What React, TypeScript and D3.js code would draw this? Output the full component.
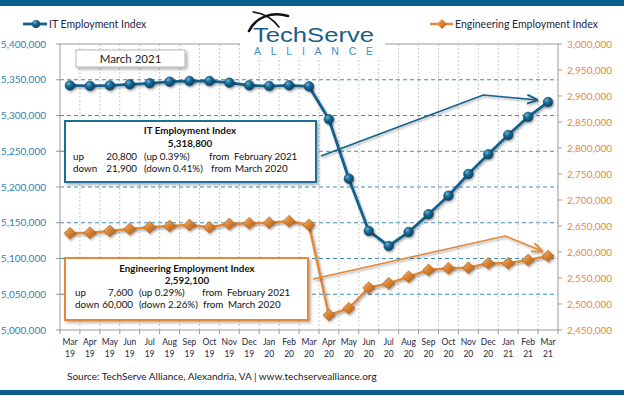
import React from "react";
import * as d3 from "d3";

const MONTHS = ["Mar", "Apr", "May", "Jun", "Jul", "Aug", "Sep", "Oct", "Nov", "Dec", "Jan", "Feb", "Mar",
  "Apr", "May", "Jun", "Jul", "Aug", "Sep", "Oct", "Nov", "Dec", "Jan", "Feb", "Mar"];
const YEARS = ["19", "19", "19", "19", "19", "19", "19", "19", "19", "19", "20", "20", "20",
  "20", "20", "20", "20", "20", "20", "20", "20", "20", "21", "21", "21"];

const IT_INDEX = [5342000, 5341300, 5342000, 5343600, 5345000, 5347300, 5348200, 5348200, 5345900,
  5342200, 5341200, 5342200, 5340700, 5294700, 5211600, 5138500, 5117500, 5137000, 5161800,
  5187800, 5218200, 5245700, 5272700, 5298000, 5318800];
const ENG_INDEX = [2636000, 2637100, 2640400, 2644200, 2647500, 2650000, 2651900, 2647500, 2653800,
  2655200, 2656300, 2659000, 2652100, 2478800, 2491700, 2531300, 2539700, 2552500, 2565400,
  2568600, 2569800, 2578200, 2578200, 2584500, 2592100];

const LEFT_TICKS = [5000000, 5050000, 5100000, 5150000, 5200000, 5250000, 5300000, 5350000, 5400000];
const RIGHT_TICKS = [2450000, 2500000, 2550000, 2600000, 2650000, 2700000, 2750000, 2800000,
  2850000, 2900000, 2950000, 3000000];

const IT_ROWS = [
  ["up", "20,800", "(up 0.39%)", "from", "February 2021"],
  ["down", "21,900", "(down 0.41%)", "from", "March 2020"],
];
const ENG_ROWS = [
  ["up", "7,600", "(up  0.29%)", "from", "February 2021"],
  ["down", "60,000", "(down 2.26%)", "from", "March 2020"],
];

const FONT = "Lato, 'Open Sans', sans-serif";
const BLUE = "#12618c";
const ORANGE = "#e3893a";

export default function App() {
  const W = 624, H = 396;
  const left = 60, right = 558, top = 44, bottom = 330;
  const cats = MONTHS.map((m, i) => `${m} ${YEARS[i]}`);

  const x = d3.scaleBand().domain(cats).range([left, right]);
  const cx = (i: number) => (x(cats[i]) as number) + x.bandwidth() / 2;
  const yL = d3.scaleLinear().domain([5000000, 5400000]).range([bottom, top]);
  const yR = d3.scaleLinear().domain([2450000, 3000000]).range([bottom, top]);
  const fmt = d3.format(",");

  const itLine = d3.line<number>().x((_, i) => cx(i)).y((d) => yL(d))(IT_INDEX) as string;
  const engLine = d3.line<number>().x((_, i) => cx(i)).y((d) => yR(d))(ENG_INDEX) as string;

  const last = cats.length - 1;
  // callout paths hang off the last data point
  const itEnd = [cx(last) - 11, yL(IT_INDEX[last]) - 2];
  const itPath = `M321,156 L${cx(21) - 5},95 L${itEnd[0]},${itEnd[1]}`;
  const engEnd = [cx(last) - 6, yR(ENG_INDEX[last]) - 5];
  const engPath = `M313,279 L${cx(22) - 3},236 L${engEnd[0]},${engEnd[1]}`;

  const bounds = d3.range(1, cats.length).map((k) => left + x.step() * k);

  return (
    <svg width={W} height={H} style={{ position: "absolute", left: 0, top: 0 }} fontFamily={FONT}>
      <defs>
        <filter id="sh" x="-20%" y="-20%" width="150%" height="150%">
          <feDropShadow dx="1.2" dy="1.5" stdDeviation="1" floodColor="#000" floodOpacity="0.35" />
        </filter>
        <filter id="boxsh" x="-10%" y="-10%" width="130%" height="140%">
          <feDropShadow dx="2" dy="2" stdDeviation="1.5" floodColor="#000" floodOpacity="0.3" />
        </filter>
        <radialGradient id="ball" cx="35%" cy="30%" r="70%">
          <stop offset="0%" stopColor="#6fb3d6" />
          <stop offset="45%" stopColor="#176a95" />
          <stop offset="100%" stopColor="#0a4566" />
        </radialGradient>
        <linearGradient id="dia" x1="0" y1="0" x2="1" y2="1">
          <stop offset="0%" stopColor="#f6b676" />
          <stop offset="50%" stopColor="#d9812f" />
          <stop offset="100%" stopColor="#a85a17" />
        </linearGradient>
        <marker id="arrB" viewBox="0 0 10 10" refX="9" refY="5" markerWidth="7" markerHeight="7" orient="auto">
          <path d="M0,1 L10,5 L0,9" fill="none" stroke={BLUE} strokeWidth="1.6" />
        </marker>
        <marker id="arrO" viewBox="0 0 10 10" refX="9" refY="5" markerWidth="7" markerHeight="7" orient="auto">
          <path d="M0,1 L10,5 L0,9" fill="none" stroke={ORANGE} strokeWidth="1.6" />
        </marker>
      </defs>
      <rect width={W} height={H} fill="#fff" />
      <rect x={0} y={0} width={W} height={6} fill="#0a5d8b" />
      <rect x={0} y={390} width={W} height={5} fill="#0a5d8b" />

      {/* vertical gridlines */}
      {bounds.map((bx, i) => (
        <line key={i} x1={bx} x2={bx} y1={top} y2={bottom} stroke="#c9c9c9" strokeDasharray="2,2" />
      ))}
      {/* horizontal gridlines */}
      {LEFT_TICKS.slice(1, -1).map((t) => (
        <line key={t} x1={left} x2={right} y1={yL(t)} y2={yL(t)} stroke="#3d8dba" strokeDasharray="4,3" />
      ))}
      <rect x={left} y={top} width={right - left} height={bottom - top} fill="none" stroke="#9b9b9b" />

      {/* axes */}
      {LEFT_TICKS.map((t) => (
        <g key={t}>
          <line x1={left - 4} x2={left} y1={yL(t)} y2={yL(t)} stroke="#9b9b9b" />
          <text x={46} y={yL(t)} dy="0.35em" textAnchor="end" fontSize={10} fill="#2f7fb0">{fmt(t)}</text>
        </g>
      ))}
      {RIGHT_TICKS.map((t) => (
        <g key={t}>
          <line x1={right} x2={right + 4} y1={yR(t)} y2={yR(t)} stroke="#9b9b9b" />
          <text x={567} y={yR(t)} dy="0.35em" fontSize={10} fill="#e8893a">{fmt(t)}</text>
        </g>
      ))}
      {[left, ...bounds, right].map((bx, i) => (
        <line key={i} x1={bx} x2={bx} y1={bottom} y2={bottom + 4} stroke="#9b9b9b" />
      ))}
      {cats.map((c, i) => (
        <text key={c} x={cx(i)} y={345} textAnchor="middle" fontSize={8.5} fill="#262640">
          <tspan x={cx(i)}>{MONTHS[i]}</tspan>
          <tspan x={cx(i)} dy={12}>{YEARS[i]}</tspan>
        </text>
      ))}

      {/* series */}
      <path d={engLine} fill="none" stroke={ORANGE} strokeWidth={2.5} filter="url(#sh)" />
      {ENG_INDEX.map((v, i) => (
        <path key={i} d={`M${cx(i)},${yR(v) - 6} l6,6 l-6,6 l-6,-6 Z`} fill="url(#dia)"
          stroke="#a95b18" strokeWidth={0.6} filter="url(#sh)" />
      ))}
      <path d={itLine} fill="none" stroke={BLUE} strokeWidth={2.8} filter="url(#sh)" />
      {IT_INDEX.map((v, i) => (
        <circle key={i} cx={cx(i)} cy={yL(v)} r={4.8} fill="url(#ball)" stroke="#0a4566" strokeWidth={0.6} filter="url(#sh)" />
      ))}

      {/* date box */}
      <rect x={76} y={50} width={109} height={17} fill="#fff" stroke="#b5b5b5" filter="url(#boxsh)" />
      <text x={130.5} y={62.5} textAnchor="middle" fontSize={11.5} fill="#1a1a1a">March 2021</text>

      {/* IT info box */}
      <rect x={65} y={121} width={251} height={61} fill="#fff" stroke="#1d6f98" strokeWidth={2} filter="url(#boxsh)" />
      <text x={190} y={134} textAnchor="middle" fontSize={9.8} fontWeight="bold" fill="#111">IT Employment Index</text>
      <text x={190} y={146.5} textAnchor="middle" fontSize={9.8} fontWeight="bold" fill="#111">5,318,800</text>
      {IT_ROWS.map((r, k) => (
        <g key={k} fontSize={9.8} fill="#111">
          <text x={73} y={160 + k * 11.7}>{r[0]}</text>
          <text x={137} y={160 + k * 11.7} textAnchor="end">{r[1]}</text>
          <text x={144} y={160 + k * 11.7}>{r[2]}</text>
          <text x={209 + k * 2} y={160 + k * 11.7}>{r[3]}</text>
          <text x={234 + k} y={160 + k * 11.7}>{r[4]}</text>
        </g>
      ))}
      <path d={itPath} fill="none" stroke={BLUE} strokeWidth={1.6} markerEnd="url(#arrB)" filter="url(#sh)" />

      {/* Engineering info box */}
      <rect x={65} y={258} width={243} height={62} fill="#fff" stroke="#e3893a" strokeWidth={2} filter="url(#boxsh)" />
      <text x={187} y={271.5} textAnchor="middle" fontSize={9.8} fontWeight="bold" fill="#111">Engineering Employment Index</text>
      <text x={187} y={284} textAnchor="middle" fontSize={9.8} fontWeight="bold" fill="#111">2,592,100</text>
      {ENG_ROWS.map((r, k) => (
        <g key={k} fontSize={9.8} fill="#111">
          <text x={75} y={296 + k * 12}>{r[0]}</text>
          <text x={133} y={296 + k * 12} textAnchor="end">{r[1]}</text>
          <text x={139} y={296 + k * 12}>{r[2]}</text>
          <text x={202 + k} y={296 + k * 12}>{r[3]}</text>
          <text x={227 + k} y={296 + k * 12}>{r[4]}</text>
        </g>
      ))}
      <path d={engPath} fill="none" stroke={ORANGE} strokeWidth={1.6} markerEnd="url(#arrO)" filter="url(#sh)" />

      {/* legends */}
      <line x1={23} x2={47} y1={24} y2={24} stroke={BLUE} strokeWidth={2.8} />
      <circle cx={36} cy={24} r={4} fill="url(#ball)" />
      <text x={49} y={24} dy="0.35em" fontSize={10.5} fill="#262646">IT Employment Index</text>
      <line x1={430} x2={453} y1={24} y2={24} stroke={ORANGE} strokeWidth={2.5} />
      <path d="M442,19 l5,5 l-5,5 l-5,-5 Z" fill="url(#dia)" />
      <text x={455} y={24} dy="0.35em" fontSize={10.5} fill="#262646">Engineering Employment Index</text>

      {/* logo */}
      <rect x={240} y={8} width={145} height={49} fill="#fff" />
      <path d="M249,31 C256,17 272,11 288,16" fill="none" stroke="#111" strokeWidth={2.6} strokeLinecap="round" />
      <path d="M253,12 C263,13 272,18 279,27" fill="none" stroke="#111" strokeWidth={1.6} strokeLinecap="round" />
      <text x={253} y={42} fontSize={20} fontFamily="'Liberation Sans', Arial, sans-serif" fill="#1b5d8a"
        textLength={121} lengthAdjust="spacingAndGlyphs">TechServe</text>
      <text x={254} y={55} fontSize={10.5} fontFamily="'Liberation Sans', Arial, sans-serif" fill="#3d90c8"
        textLength={119} lengthAdjust="spacing">ALLIANCE</text>

      <text x={67} y={380} fontSize={10} fill="#1a1a2e">Source: TechServe  Alliance, Alexandria, VA | www.techservealliance.org</text>
    </svg>
  );
}
